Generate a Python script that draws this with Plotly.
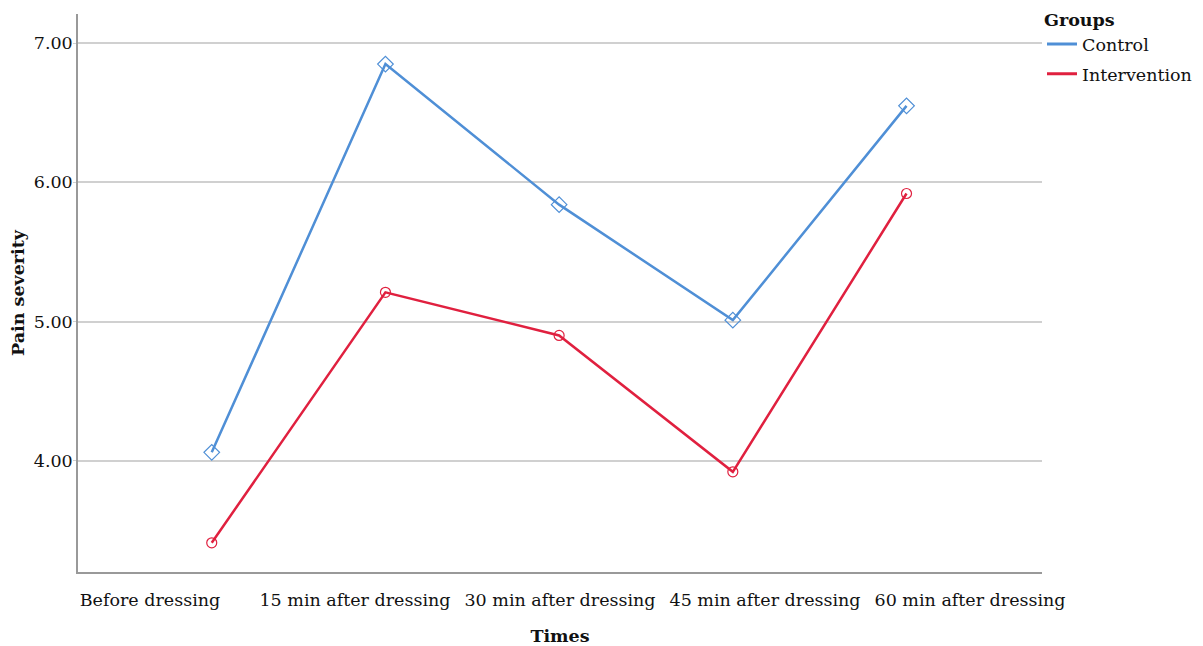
import plotly.graph_objects as go

categories = ["Before dressing", "15 min after dressing", "30 min after dressing",
              "45 min after dressing", "60 min after dressing"]
control = [4.06, 6.85, 5.84, 5.01, 6.55]
intervention = [3.41, 5.21, 4.90, 3.92, 5.92]
y_ticks = [4, 5, 6, 7]
y_tick_labels = ["4.00", "5.00", "6.00", "7.00"]

FONT = "DejaVu Serif"
BLUE = "#4f8fd6"
RED = "#e0203f"
FS = 17.5

xs = list(range(len(categories)))
fig = go.Figure()
fig.add_trace(go.Scatter(
    x=xs, y=control, name="Control", mode="lines+markers", showlegend=False,
    line=dict(color=BLUE, width=2.5),
    marker=dict(symbol="diamond-open", size=12, color=BLUE, line=dict(width=1.2, color=BLUE)),
))
fig.add_trace(go.Scatter(
    x=xs, y=intervention, name="Intervention", mode="lines+markers", showlegend=False,
    line=dict(color=RED, width=2.5),
    marker=dict(symbol="circle-open", size=10, color=RED, line=dict(width=1.2, color=RED)),
))
# legend entries (lines only, as in the reference)
fig.add_trace(go.Scatter(x=[None], y=[None], name="Control", mode="lines",
                         legendgroup="a", line=dict(color=BLUE, width=3)))
fig.add_trace(go.Scatter(x=[None], y=[None], name="Intervention", mode="lines",
                         legendgroup="b", line=dict(color=RED, width=3)))
# label axis: category labels spread evenly along the axis, as in the reference
fig.add_trace(go.Scatter(x=xs, y=[None] * len(xs), xaxis="x2", showlegend=False,
                         hoverinfo="skip", mode="lines"))

fig.update_layout(
    width=1195, height=638,
    margin=dict(l=70, r=161, t=6, b=74, autoexpand=False),
    paper_bgcolor="white", plot_bgcolor="white",
    font=dict(family=FONT, size=FS, color="#111"),
    legend=dict(
        title=dict(text="<b>Groups</b>", font=dict(family=FONT, size=FS)),
        x=1.0, y=1.019, xanchor="left", yanchor="top",
        font=dict(family=FONT, size=FS), itemwidth=30, tracegroupgap=4,
        bgcolor="rgba(0,0,0,0)",
    ),
    xaxis=dict(
        range=[-0.77, 4.78],
        tickmode="array", tickvals=xs, showticklabels=False,
        showgrid=False, zeroline=False,
        showline=True, linecolor="#999", linewidth=2,
        ticks="", automargin=False,
    ),
    xaxis2=dict(
        overlaying="x", anchor="y", side="bottom",
        range=[-0.351, 4.351],
        tickmode="array", tickvals=xs, ticktext=categories, tickangle=0,
        showgrid=False, zeroline=False, showline=False,
        ticks="", ticklabelstandoff=15, automargin=False,
        title=dict(text="<b>Times</b>", font=dict(family=FONT, size=FS), standoff=21),
    ),
    yaxis=dict(
        range=[3.2, 7.21],
        tickmode="array", tickvals=y_ticks, ticktext=y_tick_labels,
        showgrid=True, gridcolor="#d0d0d0", gridwidth=1.5, zeroline=False,
        showline=True, linecolor="#999", linewidth=1.5,
        ticks="outside", ticklen=3, tickcolor="#d0d0d0", automargin=False,
        ticklabelstandoff=-3,
        title=dict(text="<b>Pain severity</b>", font=dict(family=FONT, size=FS), standoff=10),
    ),
)

fig.write_html("out.html")
